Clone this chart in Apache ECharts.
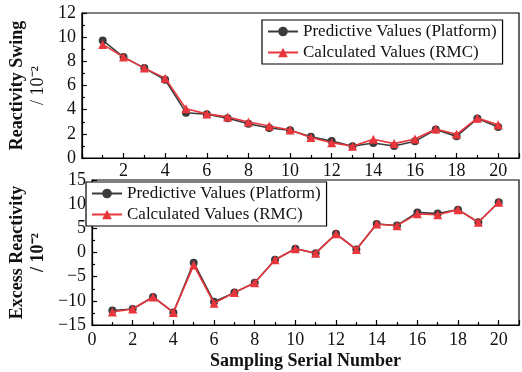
<!DOCTYPE html>
<html>
<head>
<meta charset="utf-8">
<script src="https://cdn.jsdelivr.net/npm/echarts@6/dist/echarts.min.js"></script>
<style>
  html, body { margin: 0; padding: 0; background: #fff; }
  #chart { width: 522px; height: 372px; }
</style>
</head>
<body>
<div id="chart"></div>
<script>
// Sampling serial numbers shared by both panels
const samples = [1, 2, 3, 4, 5, 6, 7, 8, 9, 10, 11, 12, 13, 14, 15, 16, 17, 18, 19, 20];

// Reactivity swing (x10^-2)
const swingPlatform = [9.73, 8.35, 7.44, 6.48, 3.75, 3.62, 3.30, 2.84, 2.48, 2.30, 1.75, 1.40, 0.97, 1.24, 0.99, 1.38, 2.35, 1.79, 3.26, 2.56];
const swingRMC      = [9.40, 8.35, 7.44, 6.61, 4.08, 3.65, 3.40, 2.98, 2.65, 2.32, 1.70, 1.27, 0.97, 1.55, 1.19, 1.58, 2.40, 1.96, 3.30, 2.76];

// Excess reactivity (x10^-2)
const excessPlatform = [-12.0, -11.7, -9.2, -12.4, -2.1, -10.2, -8.3, -6.25, -1.5, 0.76, -0.14, 3.86, 0.62, 5.9, 5.6, 8.3, 8.05, 8.87, 6.25, 10.4];
const excessRMC      = [-12.3, -11.7, -9.2, -12.4, -2.6, -10.5, -8.3, -6.25, -1.5, 0.76, -0.14, 3.86, 0.62, 5.9, 5.55, 8.0, 7.8, 8.87, 6.25, 10.4];

const seriesNames = ['Predictive Values (Platform)', 'Calculated Values (RMC)'];

const serif = "'Liberation Serif', 'Times New Roman', serif";
const pair = (xs, ys) => xs.map((x, i) => [x, ys[i]]);
const minus = v => String(v).replace('-', '\u2212');

function xAxis(gridIndex, showZero) {
  return {
    type: 'value', gridIndex, min: 0, max: 21, interval: 2,
    axisLine: { onZero: false, lineStyle: { color: '#000', width: 1.2 } },
    axisTick: { inside: true, length: 5, lineStyle: { color: '#000', width: 1.2 } },
    minorTick: { show: true, splitNumber: 2, length: 3, lineStyle: { color: '#000', width: 1.2 } },
    splitLine: { show: false },
    axisLabel: {
      fontFamily: serif, fontSize: 18, color: '#111', margin: gridIndex === 1 ? 6 : 4,
      formatter: v => (v % 2 === 0 && v <= 20 && (showZero || v !== 0)) ? String(v) : ''
    },
    name: gridIndex === 1 ? 'Sampling Serial Number' : '',
    nameLocation: 'middle', nameGap: 27,
    nameTextStyle: { fontFamily: serif, fontSize: 18, fontWeight: 'bold', color: '#111' }
  };
}

function yAxis(gridIndex, min, max, interval, title, subBold) {
  return {
    type: 'value', gridIndex, min, max, interval,
    axisLine: { show: true, onZero: false, lineStyle: { color: '#000', width: 1.2 } },
    axisTick: { show: true, inside: true, length: 5, lineStyle: { color: '#000', width: 1.2 } },
    minorTick: { show: true, splitNumber: 2, length: 3, lineStyle: { color: '#000', width: 1.2 } },
    splitLine: { show: false },
    axisLabel: { fontFamily: serif, fontSize: 18, color: '#111', margin: 6, formatter: minus },
    name: '{t|' + title + '}\n{u|/ 10\u207B\u00B2}',
    nameLocation: 'middle', nameRotate: 90, nameGap: 30,
    nameTextStyle: {
      rich: {
        t: { fontFamily: serif, fontSize: 18, fontWeight: 'bold', color: '#111', lineHeight: 21 },
        u: { fontFamily: serif, fontSize: 18, fontWeight: subBold ? 'bold' : 'normal', color: '#111', lineHeight: 21 }
      }
    }
  };
}

function lineSeries(name, data, idx, dark) {
  return {
    name, type: 'line', xAxisIndex: idx, yAxisIndex: idx,
    data,
    symbol: dark ? 'circle' : 'triangle',
    symbolSize: dark ? 8 : 9,
    itemStyle: { color: dark ? '#3b3b3b' : '#e8363c' },
    lineStyle: { color: dark ? '#3b3b3b' : '#e8363c', width: 1.6 },
    z: dark ? 2 : 3,
    animation: false
  };
}

function legend(left, top) {
  return {
    data: seriesNames, orient: 'vertical', left, top,
    backgroundColor: '#fff', borderColor: '#000', borderWidth: 1.2,
    padding: [3, 6, 3, 5], itemGap: 4, itemWidth: 30, itemHeight: 12,
    textStyle: { fontFamily: serif, fontSize: 17, color: '#111' }
  };
}

const chart = echarts.init(document.getElementById('chart'), null, { renderer: 'canvas' });
chart.setOption({
  backgroundColor: '#fff',
  animation: false,
  grid: [
    { left: 72, top: 13, width: 448, height: 145, show: true, borderColor: '#000', borderWidth: 1.2, backgroundColor: 'transparent' },
    { left: 72, top: 180, width: 448, height: 145, show: true, borderColor: '#000', borderWidth: 1.2, backgroundColor: 'transparent' }
  ],
  xAxis: [xAxis(0, false), xAxis(1, true)],
  yAxis: [
    yAxis(0, 0, 12, 2, 'Reactivity Swing', false),
    yAxis(1, -15, 15, 5, 'Excess Reactivity', true)
  ],
  legend: [legend(262, 20), legend(86, 182)],
  series: [
    lineSeries(seriesNames[0], pair(samples, swingPlatform), 0, true),
    lineSeries(seriesNames[1], pair(samples, swingRMC), 0, false),
    lineSeries(seriesNames[0], pair(samples, excessPlatform), 1, true),
    lineSeries(seriesNames[1], pair(samples, excessRMC), 1, false)
  ]
});
</script>
</body>
</html>
